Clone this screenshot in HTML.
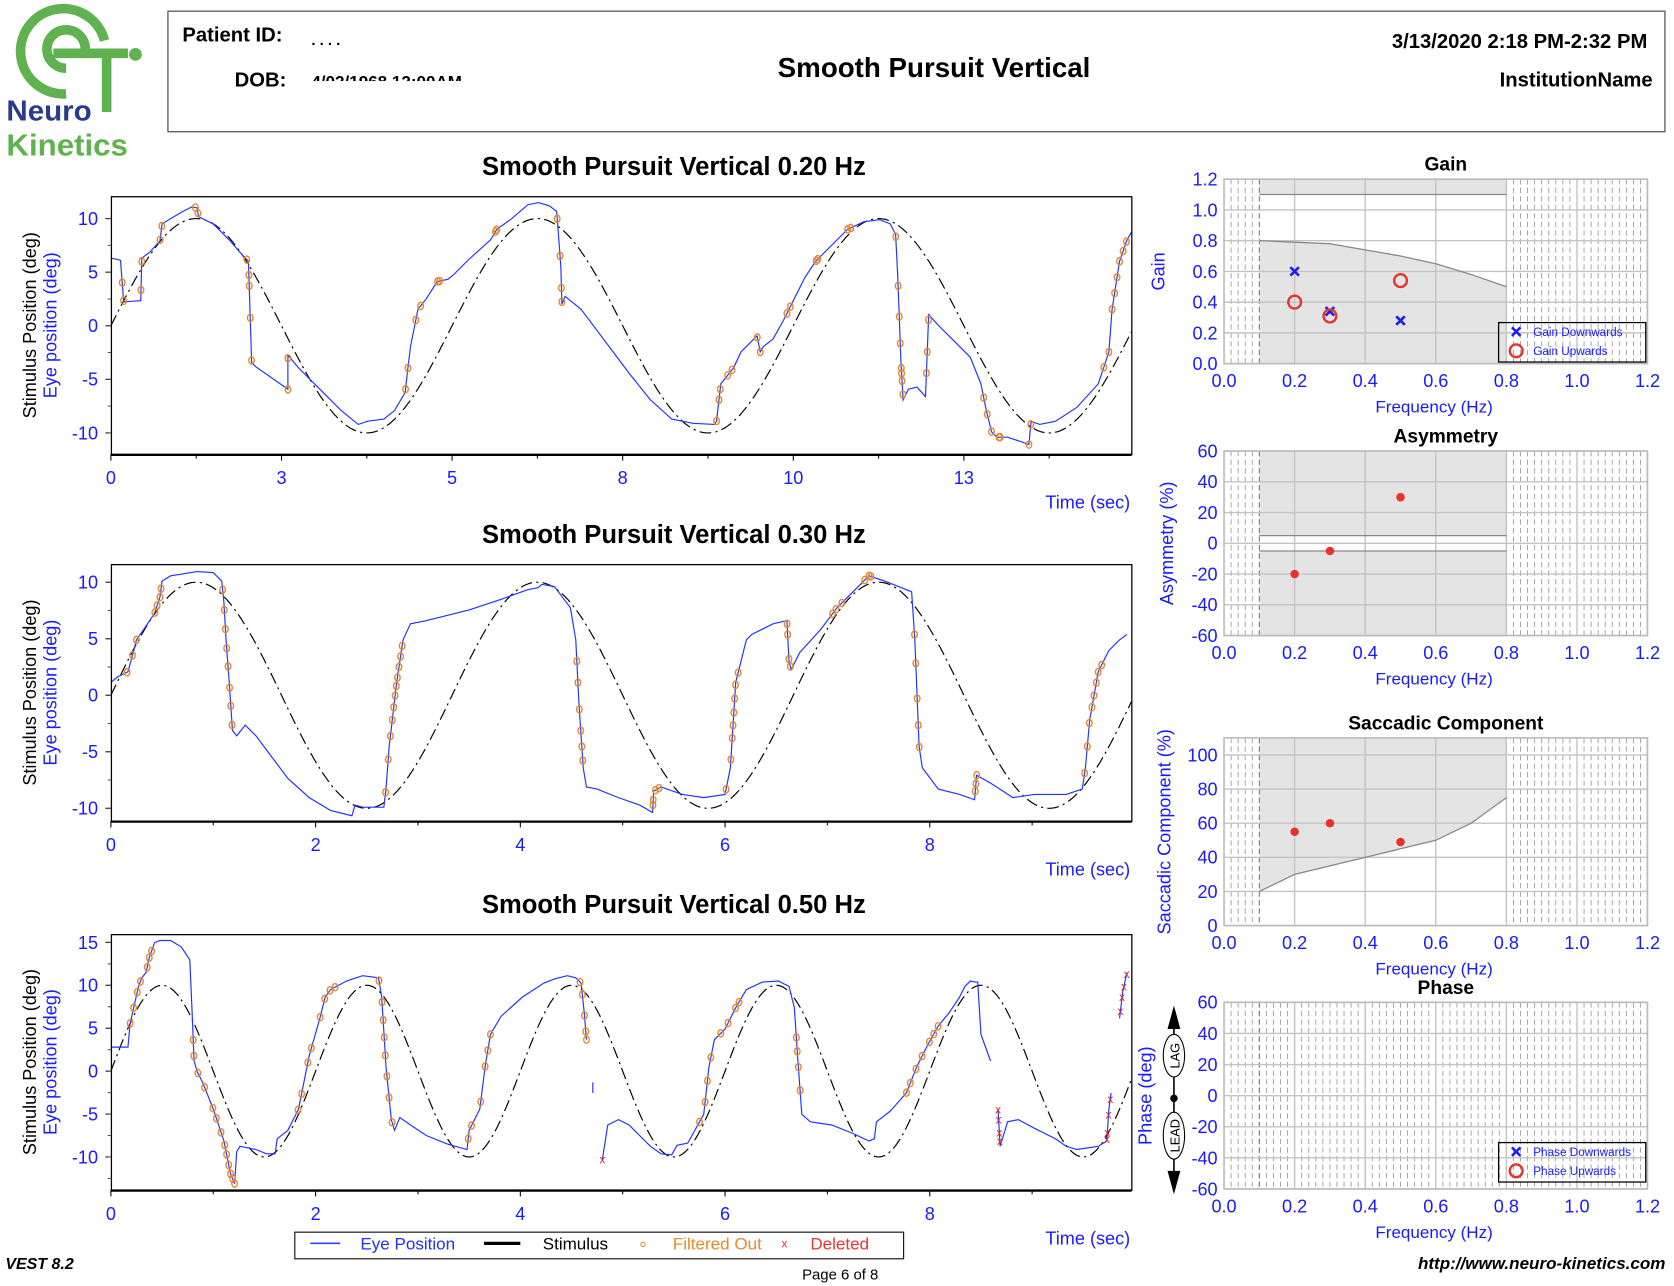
<!DOCTYPE html>
<html><head><meta charset="utf-8">
<style>
html,body{margin:0;padding:0;background:#fff;}
svg{display:block;font-family:"Liberation Sans",Arial,sans-serif;}
</style></head>
<body>
<svg id="s" width="1674" height="1286" viewBox="0 0 1570 1206" preserveAspectRatio="none" xmlns="http://www.w3.org/2000/svg">
<rect width="1570" height="1206" fill="#fff"/>
<g fill="none" stroke="#5fb24f" stroke-width="9">
<path d="M98,38 A40,40 0 1 0 62,88"/>
<path d="M80,46 A18,18 0 1 0 62,64"/>
<path d="M50,50 H100 V105"/>
<path d="M100,50 H120"/>
</g>
<circle cx="127" cy="51" r="6" fill="#5fb24f"/>
<text x="6" y="113" font-size="27" font-weight="bold" fill="#2a3a8c" textLength="80" lengthAdjust="spacingAndGlyphs">Neuro</text>
<text x="6" y="146" font-size="29" font-weight="bold" fill="#5fb24f" textLength="114" lengthAdjust="spacingAndGlyphs">Kinetics</text>
<rect x="157.5" y="10.5" width="1404" height="113" fill="none" stroke="#555" stroke-width="1.2"/>
<text x="171" y="39" font-size="19" font-weight="bold">Patient ID:</text>
<text x="292" y="42" font-size="14" font-weight="bold">. . . .</text>
<text x="220" y="81" font-size="19" font-weight="bold">DOB:</text>
<text x="292" y="82" font-size="16" font-weight="bold">4/02/1968 12:00AM</text>
<rect x="288" y="76" width="190" height="12" fill="#fff"/>
<text x="876" y="72" font-size="26" font-weight="bold" text-anchor="middle">Smooth Pursuit Vertical</text>
<text x="1545" y="45" font-size="19" font-weight="bold" text-anchor="end">3/13/2020 2:18 PM-2:32 PM</text>
<text x="1550" y="81" font-size="19" font-weight="bold" text-anchor="end">InstitutionName</text>
<text x="5" y="1190" font-size="15" font-weight="bold" font-style="italic">VEST 8.2</text>
<text x="788" y="1200" font-size="14" text-anchor="middle">Page 6 of 8</text>
<text x="1562" y="1190" font-size="16" font-weight="bold" font-style="italic" text-anchor="end">http://www.neuro-kinetics.com</text>
<rect x="276.5" y="1155.5" width="571" height="25" fill="none" stroke="#000"/>
<line x1="291" y1="1166" x2="319" y2="1166" stroke="#3344ff" stroke-width="1.5"/>
<text x="338" y="1172" font-size="16" fill="#2233ee">Eye Position</text>
<line x1="454" y1="1166" x2="488" y2="1166" stroke="#000" stroke-width="3"/>
<text x="509" y="1172" font-size="16">Stimulus</text>
<circle cx="603" cy="1167" r="2" fill="none" stroke="#e88a2c"/>
<text x="631" y="1172" font-size="16" fill="#e88a2c">Filtered Out</text>
<text x="733" y="1170" font-size="11" fill="#e33">x</text>
<text x="760" y="1172" font-size="16" fill="#e33">Deleted</text>
<g id="g"></g>
</svg>
<script>
var NS="http://www.w3.org/2000/svg",G=document.getElementById("g");
function el(t,a,txt){var e=document.createElementNS(NS,t);for(var k in a)e.setAttribute(k,a[k]);if(txt!==undefined)e.textContent=txt;G.appendChild(e);return e;}
function txt(x,y,s,o){o=o||{};var a={x:x,y:y,"font-size":o.fs||17,fill:o.fill||"#1a1aff"};if(o.anchor)a["text-anchor"]=o.anchor;if(o.bold)a["font-weight"]="bold";if(o.rot)a.transform="rotate(-90 "+x+" "+y+")";return el("text",a,s);}
function pl(pts,o){el("polyline",Object.assign({points:pts,fill:"none"},o));}
function parse(s){return s.trim().split(/\s+/).map(function(p){var a=p.split(",");return [+a[0],+a[1]];});}
function snap(p,lines){var best=null,bd=1e9;lines.forEach(function(L){for(var i=0;i<L.length-1;i++){var a=L[i],b=L[i+1];var dx=b[0]-a[0],dy=b[1]-a[1];var l2=dx*dx+dy*dy;var t=l2?((p[0]-a[0])*dx+(p[1]-a[1])*dy)/l2:0;t=Math.max(0,Math.min(1,t));var q=[a[0]+t*dx,a[1]+t*dy];var d=(q[0]-p[0])*(q[0]-p[0])+(q[1]-p[1])*(q[1]-p[1]);if(d<bd){bd=d;best=q;}}});return bd<400?best:p;}
function chart(c){
 var L=104,R=1061,T=c.T,B=c.B;
 txt(632,c.T-20,c.title,{fs:24,bold:1,fill:"#000",anchor:"middle"});
 var d="";for(var px=L;px<=R;px+=1){var t=(px-L)/c.xs;var v=10*Math.sin(2*Math.PI*c.f*t);d+=(px==L?"M":"L")+px+","+(c.y0-v*c.ys).toFixed(1);}
 el("path",{d:d,fill:"none",stroke:"#000","stroke-width":1.1,"stroke-dasharray":"11,4,2,4"});
 var lines=c.eye.map(parse);
 c.eye.forEach(function(p){pl(p,{stroke:"#2233ff","stroke-width":1.1});});
 (c.circ||[]).forEach(function(p){var q=snap(p,lines);el("ellipse",{cx:q[0],cy:q[1],rx:2.6,ry:3.4,fill:"none",stroke:"#e8862a","stroke-width":1.3});});
 (c.del||[]).forEach(function(p){var q=snap(p,lines);el("text",{x:q[0],y:q[1]+4,"font-size":11,fill:"#e22","text-anchor":"middle"},"x");});
 el("rect",{x:L+.5,y:T+.5,width:R-L,height:B-T,fill:"none",stroke:"#000","stroke-width":1.2});
 el("line",{x1:L,y1:B+.5,x2:R,y2:B+.5,stroke:"#000","stroke-width":2.2});
 c.yt.forEach(function(v){var y=c.y0-v*c.ys;el("line",{x1:L-5,y1:y,x2:L,y2:y,stroke:"#000"});txt(L-12,y+6,String(v),{anchor:"end"});});
 for(var v=c.ymin;v<=c.ymax;v+=2.5){var y=c.y0-v*c.ys;el("line",{x1:L-3,y1:y,x2:L,y2:y,stroke:"#555"});}
 c.xt.forEach(function(a){el("line",{x1:a[0],y1:B,x2:a[0],y2:B+6,stroke:"#000"});txt(a[0],B+28,a[1],{anchor:"middle"});});
 (c.xm||[]).forEach(function(x){el("line",{x1:x,y1:B,x2:x,y2:B+4,stroke:"#000"});});
 txt(1060,c.B+51,"Time (sec)",{anchor:"end"});
 var cy=(T+B)/2;
 txt(34,cy,"Stimulus Position (deg)",{fill:"#000",anchor:"middle",rot:1});
 txt(53,cy,"Eye position (deg)",{anchor:"middle",rot:1});
}
chart({T:184,B:426,f:0.2,xs:64,y0:305.5,ys:10.05,ymin:-10,ymax:10,yt:[10,5,0,-5,-10],title:"Smooth Pursuit Vertical 0.20 Hz",
 xt:[[104,"0"],[264,"3"],[424,"5"],[584,"8"],[744,"10"],[904,"13"]],xm:[184,344,504,664,824,984],
 eye:["104,242 113,244 116,283 132,282 133,242 140,237 150,226 152,210 160,205 172,198 180,194 185,195 186,203 200,210 215,225 228,240 233,245 236,340 240,344 260,358 270,365 270,333 280,345 300,365 320,385 336,398 345,395 360,393 370,385 380,368 382,350 385,325 392,290 400,280 410,264 420,262 425,258 440,243 460,225 466,215 480,205 495,192 505,190 515,193 522,198 523,210 526,250 527,285 530,278 545,290 560,310 575,330 590,350 610,375 630,393 650,397 670,398 672,395 676,360 680,355 688,345 695,330 705,320 710,315 713,330 716,325 725,318 735,300 745,280 755,260 765,245 780,230 795,215 810,208 825,206 835,210 840,220 842,260 845,340 847,375 852,365 860,363 868,372 871,295 880,305 895,320 910,335 920,360 925,385 930,405 935,410 945,410 960,415 965,417 967,395 975,398 990,395 1010,382 1030,360 1040,330 1043,290 1050,245 1057,225 1061,218"],
 circ:[[115,265],[116,282],[133,272],[134,245],[151,225],[153,212],[183,196],[185,200],[232,243],[233,258],[234,268],[235,298],[236,338],[271,336],[270,365],[381,365],[382,345],[390,300],[392,285],[410,262],[411,257],[465,215],[466,218],[524,205],[525,240],[526,270],[527,283],[674,395],[675,375],[676,365],[686,355],[688,348],[712,316],[713,330],[740,295],[742,288],[766,245],[767,243],[795,215],[797,212],[840,222],[842,268],[843,297],[845,322],[846,345],[847,370],[849,357],[850,350],[870,350],[871,330],[872,300],[927,372],[928,388],[929,405],[937,408],[938,412],[966,417],[967,398],[1037,345],[1040,330],[1043,290],[1046,275],[1048,260],[1050,245],[1052,235],[1055,226]]});
chart({T:529,B:770,f:0.3,xs:96,y0:652,ys:10.6,ymin:-10,ymax:10,yt:[10,5,0,-5,-10],title:"Smooth Pursuit Vertical 0.30 Hz",
 xt:[[104,"0"],[296,"2"],[488,"4"],[680,"6"],[872,"8"]],xm:[200,392,584,776,968],
 eye:["104,640 110,635 120,630 125,612 128,600 135,590 145,575 150,560 152,545 160,540 185,536 200,537 208,545 210,565 212,600 215,640 218,685 222,690 230,680 240,690 255,710 270,730 290,748 310,760 330,765 333,755 340,757 360,757 362,740 365,700 372,640 378,600 385,585 400,582 440,572 470,562 495,553 505,551 508,548 520,550 535,570 540,600 543,660 547,720 550,738 560,740 580,748 600,755 612,762 613,742 620,738 640,745 660,748 680,745 685,720 690,640 700,600 705,595 725,585 738,582 740,620 742,628 750,612 770,590 785,570 800,555 815,540 830,545 855,555 858,600 860,650 862,700 865,720 880,740 900,745 914,750 916,727 930,735 950,748 970,745 1000,745 1015,740 1018,720 1022,675 1030,630 1040,610 1050,600 1057,595"],
 circ:[[124,640],[126,615],[128,600],[147,575],[148,568],[150,560],[151,552],[209,553],[210,572],[211,590],[212,608],[213,625],[214,645],[215,662],[216,680],[362,743],[363,712],[364,690],[366,675],[367,663],[368,652],[369,643],[370,635],[371,625],[372,615],[373,605],[544,620],[545,640],[546,665],[547,685],[548,700],[549,713],[611,755],[612,750],[613,738],[614,732],[680,740],[682,712],[684,692],[685,680],[686,668],[687,655],[688,642],[689,630],[738,585],[739,595],[740,618],[741,625],[784,578],[785,572],[786,562],[815,540],[816,543],[817,550],[858,595],[860,622],[862,655],[864,680],[866,700],[915,742],[916,735],[917,722],[1017,725],[1019,700],[1021,678],[1023,663],[1025,652],[1027,640],[1029,630],[1030,622]]});
chart({T:876,B:1116,f:0.5,xs:96,y0:1004.5,ys:8.05,ymin:-12.5,ymax:15,yt:[15,10,5,0,-5,-10],title:"Smooth Pursuit Vertical 0.50 Hz",
 xt:[[104,"0"],[296,"2"],[488,"4"],[680,"6"],[872,"8"]],xm:[200,392,584,776,968],
 eye:["104,982 120,982 122,960 126,942 130,925 133,917 137,912 140,898 145,884 150,882 160,882 170,888 178,900 180,945 182,995 185,1005 190,1015 200,1040 210,1070 216,1100 220,1110 222,1080 225,1075 240,1078 250,1082 258,1082 260,1068 270,1060 280,1040 290,990 300,955 305,935 310,928 325,920 340,915 355,917 358,935 362,1000 367,1050 370,1060 375,1048 385,1055 400,1065 420,1073 438,1078 440,1060 450,1040 455,1000 460,970 470,953 490,935 510,922 520,918 532,915 540,917 545,922 548,950 550,975","556,1015 556,1025","565,1087 570,1055 580,1050 590,1055 600,1065 610,1075 620,1082 630,1083 635,1074 645,1072 660,1045 665,1000 670,975 680,965 690,945 700,928 715,921 730,920 740,925 745,945 748,990 752,1045 760,1052 780,1055 800,1063 815,1070 820,1068 822,1052 835,1042 850,1025 860,1000 870,980 880,962 890,950 900,935 905,925 910,920 915,921 917,921 920,970 929,995","936,1040 938,1075 945,1052 955,1050 970,1058 990,1068 1000,1075 1010,1078 1030,1075 1038,1070 1040,1040 1042,1025","1050,955 1053,930 1057,912"],
 circ:[[124,960],[125,945],[127,930],[131,920],[133,906],[135,897],[137,890],[185,975],[186,990],[188,1005],[191,1020],[210,1035],[211,1046],[213,1060],[215,1073],[216,1082],[217,1092],[218,1100],[219,1105],[220,1110],[278,1040],[279,1025],[281,995],[282,980],[305,955],[306,937],[307,927],[308,914],[353,920],[353,940],[354,957],[355,973],[356,990],[357,1010],[358,1030],[359,1055],[440,1068],[441,1055],[442,1032],[454,1000],[457,985],[460,970],[550,915],[551,932],[552,952],[553,967],[553,982],[656,1052],[657,1033],[658,1013],[659,990],[677,970],[678,957],[679,940],[680,932],[758,1022],[759,1000],[760,985],[761,972],[851,1025],[852,1015],[853,1000],[854,985],[868,975],[869,966],[870,957]],
 del:[[563,1087],[933,1040],[933,1050],[934,1062],[935,1070],[1039,1030],[1040,1045],[1039,1062],[1038,1068],[1051,948],[1053,935],[1054,925],[1056,913]]});
function fx(f){return 1148+331*f;}
function rchart(c){
 var T=c.T,B=c.B,L=1148,R=1545;
 function py(v){return B-(v-c.min)/(c.max-c.min)*(B-T);}
 txt(1356,c.T-8,c.title,{fs:18,bold:1,fill:"#000",anchor:"middle"});
 if(c.gray){el("rect",{x:fx(0.1),y:T,width:fx(0.8)-fx(0.1),height:B-T,fill:"#e4e4e4"});}
 if(c.white){var pts=c.white.map(function(p){return fx(p[0])+","+py(p[1]);}).join(" ");el("polygon",{points:pts,fill:"#fff"});}
 for(var f=0.02;f<1.2;f+=0.02){if(c.all||f<0.1||f>0.79){var x=fx(f);el("line",{x1:x,y1:T,x2:x,y2:B,stroke:"#999","stroke-width":0.8,"stroke-dasharray":"5,3"});}}
 el("line",{x1:fx(0.1),y1:T,x2:fx(0.1),y2:B,stroke:"#777","stroke-width":1,"stroke-dasharray":"5,3"});
 el("line",{x1:fx(0.8),y1:T,x2:fx(0.8),y2:B,stroke:"#999","stroke-width":1,"stroke-dasharray":"5,3"});
 for(var f=0.2;f<1.21;f+=0.2){el("line",{x1:fx(f),y1:T,x2:fx(f),y2:B,stroke:"#c4c4c4","stroke-width":1.3});}
 c.yt.forEach(function(v){var y=py(v);el("line",{x1:L,y1:y,x2:R,y2:y,stroke:"#c4c4c4","stroke-width":1.3});txt(L-6,y+6,String(c.lab?c.lab(v):v),{anchor:"end"});});
 (c.lines||[]).forEach(function(ln){el("polyline",{points:ln.map(function(p){return fx(p[0])+","+py(p[1]);}).join(" "),fill:"none",stroke:"#888","stroke-width":1.2});});
 el("rect",{x:L,y:T,width:R-L,height:B-T,fill:"none",stroke:"#bbb","stroke-width":1.5});
 for(var i=0;i<=6;i++){var f=i*0.2;txt(fx(f),B+22,f.toFixed(1),{anchor:"middle"});}
 txt(1345,B+46,"Frequency (Hz)",{fs:16,anchor:"middle"});
 txt(c.ylx,(T+B)/2,c.ylab,{fs:17,anchor:"middle",rot:1});
 (c.dots||[]).forEach(function(p){el("circle",{cx:fx(p[0]),cy:py(p[1]),r:4,fill:"#e8322a"});});
 (c.xs||[]).forEach(function(p){var x=fx(p[0]),y=py(p[1]);el("path",{d:"M"+(x-4)+","+(y-4)+"L"+(x+4)+","+(y+4)+"M"+(x+4)+","+(y-4)+"L"+(x-4)+","+(y+4),stroke:"#1a1aff","stroke-width":2.4});});
 (c.os||[]).forEach(function(p){el("circle",{cx:fx(p[0]),cy:py(p[1]),r:6,fill:"none",stroke:"#e8322a","stroke-width":2.2});});
 if(c.leg){var ly=c.leg[0];el("rect",{x:1405.5,y:ly+.5,width:138,height:37,fill:"none",stroke:"#000","stroke-width":1.2});
  var x=1422,y=ly+9;el("path",{d:"M"+(x-4)+","+(y-4)+"L"+(x+4)+","+(y+4)+"M"+(x+4)+","+(y-4)+"L"+(x-4)+","+(y+4),stroke:"#1a1aff","stroke-width":2.4});
  el("circle",{cx:1422,cy:ly+27,r:6,fill:"none",stroke:"#e8322a","stroke-width":2.2});
  txt(1438,ly+13,c.leg[1],{fs:11});txt(1438,ly+31,c.leg[2],{fs:11});}
}
rchart({T:168,B:341,min:0,max:1.2,yt:[0,0.2,0.4,0.6,0.8,1.0,1.2],lab:function(v){return v.toFixed(1);},title:"Gain",gray:1,
 white:[[0.1,1.1],[0.8,1.1],[0.8,0.5],[0.7,0.58],[0.6,0.65],[0.5,0.7],[0.4,0.74],[0.3,0.78],[0.2,0.79],[0.1,0.8]],
 lines:[[[0.1,1.1],[0.8,1.1]],[[0.1,0.8],[0.2,0.79],[0.3,0.78],[0.4,0.74],[0.5,0.7],[0.6,0.65],[0.7,0.58],[0.8,0.5]]],
 xs:[[0.2,0.6],[0.3,0.34],[0.5,0.28]],os:[[0.2,0.4],[0.3,0.31],[0.5,0.54]],ylx:1092,ylab:"Gain",leg:[302,"Gain Downwards","Gain Upwards"]});
rchart({T:423,B:596,min:-60,max:60,yt:[60,40,20,0,-20,-40,-60],title:"Asymmetry",gray:1,
 white:[[0.1,5],[0.8,5],[0.8,-5],[0.1,-5]],lines:[[[0.1,5],[0.8,5]],[[0.1,-5],[0.8,-5]]],
 dots:[[0.2,-20],[0.3,-5],[0.5,30]],ylx:1100,ylab:"Asymmetry (%)"});
rchart({T:692,B:868,min:0,max:110,yt:[0,20,40,60,80,100],title:"Saccadic Component",gray:1,
 white:[[0.1,0],[0.1,20],[0.2,30],[0.3,35],[0.4,40],[0.5,45],[0.6,50],[0.7,60],[0.8,75],[0.8,0]],
 lines:[[[0.1,20],[0.2,30],[0.3,35],[0.4,40],[0.5,45],[0.6,50],[0.7,60],[0.8,75]]],
 dots:[[0.2,55],[0.3,60],[0.5,49]],ylx:1098,ylab:"Saccadic Component (%)"});
rchart({T:940,B:1115,min:-60,max:60,yt:[60,40,20,0,-20,-40,-60],title:"Phase",all:1,ylx:1080,ylab:"Phase (deg)",leg:[1071,"Phase Downwards","Phase Upwards"]});
el("line",{x1:1101,y1:950,x2:1101,y2:1108,stroke:"#000","stroke-width":1.5});
el("path",{d:"M1095,965 L1101,943 L1107,965Z",fill:"#000"});
el("path",{d:"M1095,1098 L1101,1120 L1107,1098Z",fill:"#000"});
el("circle",{cx:1101,cy:1030,r:3.5,fill:"#000"});
el("ellipse",{cx:1101,cy:990,rx:10,ry:20,fill:"#fff",stroke:"#000"});
el("ellipse",{cx:1101,cy:1065,rx:10,ry:22,fill:"#fff",stroke:"#000"});
txt(1106,990,"LAG",{fs:12,fill:"#000",anchor:"middle",rot:1});
txt(1106,1065,"LEAD",{fs:12,fill:"#000",anchor:"middle",rot:1});
</script>
</body></html>
